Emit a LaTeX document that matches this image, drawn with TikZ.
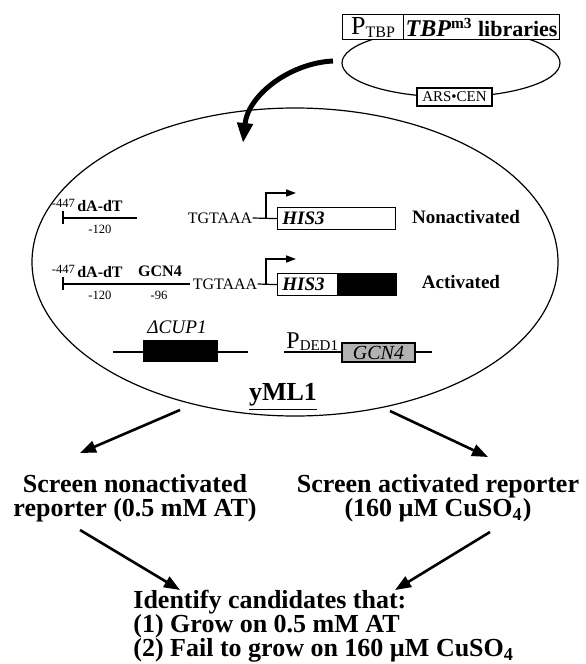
\documentclass[tikz,border=0pt]{standalone}
\usepackage{fontspec}
\setmainfont{Liberation Serif}
\usetikzlibrary{arrows.meta,shapes.geometric}
\tikzset{
	cell/.style={
		draw,
		ellipse,
		line width=0.6pt,
		inner sep=0pt
	},
	gene/.style={
		draw,
		line width=0.6pt,
		inner sep=0pt,
		anchor=north west
	},
	dna/.style={line width=0.6pt},
	promoter/.style={line width=0.8pt, -{Triangle[length=5pt,width=3.5pt]}},
	flow/.style={line width=1.3pt, -{Triangle[length=8pt,width=6pt]}},
	tag/.style={inner sep=0pt, font=\fontsize{8}{8}\selectfont},
	pos tag/.style={inner sep=0pt, font=\fontsize{6.3}{6.3}\selectfont},
	row name/.style={inner sep=0pt, font=\fontsize{9.5}{9.5}\selectfont\bfseries},
	step text/.style={inner sep=0pt, font=\fontsize{13}{12}\selectfont\bfseries},
}

\begin{document}
\begin{tikzpicture}[x=0.5pt, y=-0.5pt, >=stealth]
\useasboundingbox (0,0) rectangle (585,664);

% plasmid with the library
\node [cell, minimum width=109pt, minimum height=34pt] (plasmid) at (451,63) {};
\node [gene, fill=white, minimum width=30.5pt, minimum height=12.5pt] (ptbp) at (342,14)
	{{\fontsize{13}{13}\selectfont P}\raisebox{-1.5pt}{\fontsize{8}{8}\selectfont TBP}};
\node [gene, fill=white, minimum width=78pt, minimum height=12.5pt] (library) at (403,14)
	{{\fontsize{12}{12}\selectfont\bfseries\itshape TBP}{\fontsize{11}{11}\selectfont\bfseries\textsuperscript{m3} libraries}};
\node [gene, fill=white, anchor=center, minimum width=37.5pt, minimum height=9pt,
	font=\fontsize{7.5}{7.5}\selectfont] (ars) at (454.5,97) {ARS•CEN};

% the yeast strain
\node [cell, minimum width=263pt, minimum height=154pt] (yml) at (295,262) {};
\coordinate (gap) at (333,61);
\coordinate (entry) at (243,143);
\draw [line width=2.5pt, -{Triangle[length=10pt,width=7.5pt]}]
	(gap) .. controls (290,63) and (248,95) .. (entry);

% reporters
\foreach \row/\y/\e/\t/\w in {1/218/137/220/59, 2/284/190/225/30} {
	\coordinate (start-\row) at (63,\y);
	\coordinate (end-\row) at (\e,\y);
	\draw [dna] (start-\row) -- (end-\row);
	\draw [line width=1.2pt] (start-\row) -- ++(20,0);
	\draw [line width=1pt] ([yshift=3.5pt]start-\row) -- ([yshift=-3pt]start-\row);
	\node [pos tag] (far-\row) at (63.5,\y-15) {-447};
	\node [tag, font=\fontsize{8}{8}\selectfont\bfseries] (dadt-\row) at (100,\y-12) {dA-dT};
	\node [pos tag] (near-\row) at (100,\y+11) {-120};
	\node [tag] (tata-\row) at (\t,\y) {TGTAAA};
	\node [gene, minimum width=\w pt, minimum height=11pt] (his-\row) at (277,\y-11) {};
	\node [inner sep=0pt, anchor=west, font=\fontsize{9.5}{9.5}\selectfont\bfseries\itshape]
		(hislabel-\row) at (282,\y) {HIS3};
	\draw [dna] (tata-\row.east) -- (his-\row.west);
	\coordinate (tss-\row) at (266,\y);
	\coordinate (tip-\row) at (296,\y-25);
	\draw [promoter] (tss-\row) |- (tip-\row);
}
\node [tag, font=\fontsize{8}{8}\selectfont\bfseries] (gcn-site) at (160,271) {GCN4};
\node [pos tag] (site-pos) at (159,295) {-96};
\node [gene, fill=black, minimum width=29pt, minimum height=11pt] (lacz) at (his-2.north east) {};
\node [row name] (nonact) at (466,217) {Nonactivated};
\node [row name] (act) at (461,282) {Activated};

% other loci
\coordinate (cup-left) at (113,352);
\coordinate (cup-right) at (248,352);
\draw [dna] (cup-left) -- (cup-right);
\node [gene, fill=black, anchor=center, minimum width=36.5pt, minimum height=10pt] (cup) at (180.5,351) {};
\node [inner sep=0pt, font=\fontsize{9.6}{9.6}\selectfont\itshape] (cuplabel) at (177,327) {ΔCUP1};

\coordinate (ded-left) at (284,352);
\coordinate (ded-right) at (432,352);
\draw [dna] (ded-left) -- (ded-right);
\node [gene, fill=black!30, anchor=center, minimum width=36.5pt, minimum height=9.5pt,
	font=\fontsize{10}{10}\selectfont\itshape] (gcn) at (378.5,352.5) {GCN4};
\node [inner sep=0pt, anchor=base west] (pded) at (286,348)
	{{\fontsize{12}{12}\selectfont P}\raisebox{-1pt}{\fontsize{7.5}{7.5}\selectfont DED1}};

\node [inner sep=0pt, font=\fontsize{13}{13}\selectfont\bfseries] (strain) at (283,397) {\underline{yML1}};

% screens
\node [step text, align=center, anchor=north] (screen-non) at (135,474)
	{Screen nonactivated\\reporter (0.5 mM AT)};
\node [step text, align=center, anchor=north] (screen-act) at (438,474)
	{Screen activated reporter\\(160 µM CuSO\textsubscript{4})};
\node [step text, align=left, anchor=north west] (result) at (133,590)
	{Identify candidates that:\\(1) Grow on 0.5 mM AT\\(2) Fail to grow on 160 µM CuSO\textsubscript{4}};

\coordinate (out-non) at (180,410);
\coordinate (in-non) at (80,453);
\coordinate (out-act) at (390,411);
\coordinate (in-act) at (488,457);
\coordinate (from-non) at (80,530);
\coordinate (from-act) at (490,532);
\coordinate (to-non) at (180,590);
\coordinate (to-act) at (395,590);

\draw [flow] (out-non) -- (in-non);
\draw [flow] (out-act) -- (in-act);
\draw [flow] (from-non) -- (to-non);
\draw [flow] (from-act) -- (to-act);

\end{tikzpicture}
\end{document}
